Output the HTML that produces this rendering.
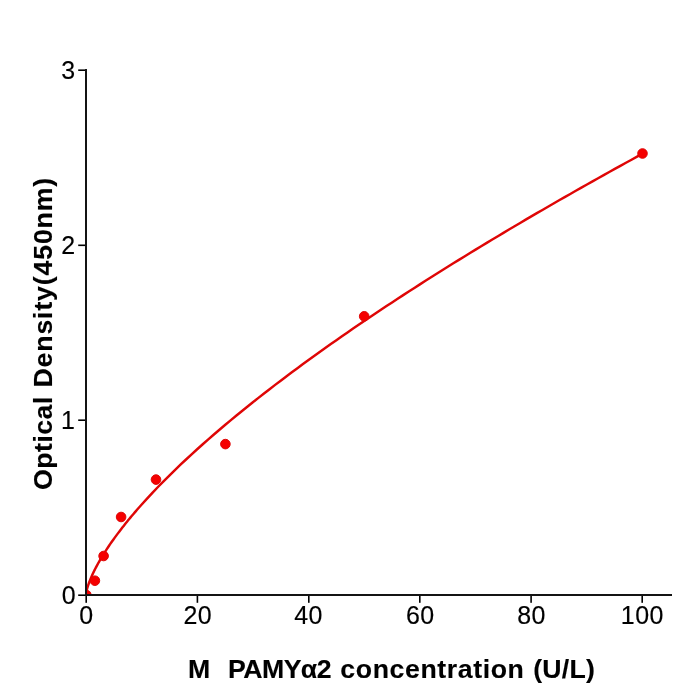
<!DOCTYPE html>
<html lang="en">
<head>
<meta charset="utf-8">
<title>M PAMY&#945;2 standard curve</title>
<style>
html,body{margin:0;padding:0;background:#ffffff;}
body{width:700px;height:700px;overflow:hidden;position:relative;font-family:"Liberation Sans",sans-serif;}
svg{position:absolute;left:0;top:0;display:block;will-change:transform;}
text{font-family:"Liberation Sans",sans-serif;fill:#000000;white-space:pre;}
.tk text{font-size:25.6px;letter-spacing:0.5px;stroke:#000;stroke-width:0.16px;}
.lb text{font-size:25.1px;font-weight:bold;stroke:#000;stroke-width:0.12px;}
</style>
</head>
<body>
<svg width="700" height="700" viewBox="0 0 700 700">
 <rect x="0" y="0" width="700" height="700" fill="#ffffff"/>
 <defs><clipPath id="ax"><rect x="85.8" y="70.0" width="584.70" height="525.00"/></clipPath></defs>
 <g clip-path="url(#ax)">
  <polyline transform="translate(0 -0.3)" fill="none" stroke="#df0606" stroke-width="2.45" stroke-linejoin="round" stroke-linecap="butt" points="85.80,595.97 86.08,593.58 86.36,592.12 86.64,590.89 86.91,589.78 87.19,588.76 87.47,587.79 87.75,586.88 88.03,586.01 88.31,585.17 88.58,584.36 88.86,583.57 89.14,582.81 89.42,582.06 89.70,581.34 89.98,580.63 90.25,579.93 90.53,579.25 90.81,578.58 91.09,577.92 91.37,577.27 91.65,576.63 91.93,576.01 92.20,575.39 92.48,574.78 92.76,574.17 93.04,573.58 93.32,572.99 93.60,572.41 93.87,571.83 94.15,571.27 94.43,570.70 94.71,570.15 94.99,569.59 95.27,569.05 95.55,568.51 95.82,567.97 96.10,567.44 96.38,566.91 96.66,566.39 96.94,565.87 98.05,563.83 99.16,561.85 100.28,559.92 101.39,558.04 102.51,556.20 103.62,554.40 104.73,552.63 105.85,550.89 106.96,549.19 108.07,547.51 109.19,545.86 110.30,544.23 111.42,542.62 112.53,541.04 113.64,539.48 114.76,537.94 115.87,536.41 116.98,534.91 118.10,533.42 119.21,531.94 120.33,530.48 121.44,529.04 122.55,527.61 123.67,526.19 124.78,524.79 125.89,523.40 127.01,522.02 128.12,520.65 129.23,519.30 130.35,517.95 131.46,516.62 132.58,515.29 133.69,513.98 134.80,512.67 135.92,511.38 137.03,510.09 138.14,508.81 139.26,507.54 140.37,506.28 141.49,505.03 147.05,498.87 152.62,492.89 158.19,487.07 163.76,481.38 169.33,475.82 174.90,470.37 180.47,465.03 186.03,459.79 191.60,454.64 197.17,449.57 202.74,444.58 208.31,439.67 213.88,434.82 219.45,430.04 225.01,425.33 230.58,420.67 236.15,416.06 241.72,411.51 247.29,407.01 252.86,402.56 258.43,398.16 263.99,393.80 269.56,389.48 275.13,385.20 280.70,380.97 286.27,376.77 291.84,372.60 297.41,368.48 302.97,364.38 308.54,360.32 314.11,356.29 319.68,352.29 325.25,348.32 330.82,344.38 336.39,340.47 341.95,336.59 347.52,332.73 353.09,328.90 358.66,325.09 364.23,321.30 369.80,317.54 375.37,313.81 380.93,310.09 386.50,306.40 392.07,302.73 397.64,299.08 403.21,295.45 408.78,291.84 414.35,288.25 419.91,284.68 425.48,281.13 431.05,277.59 436.62,274.08 442.19,270.58 447.76,267.10 453.33,263.63 458.89,260.18 464.46,256.75 470.03,253.33 475.60,249.93 481.17,246.55 486.74,243.18 492.31,239.82 497.87,236.48 503.44,233.15 509.01,229.84 514.58,226.54 520.15,223.25 525.72,219.98 531.29,216.72 536.85,213.47 542.42,210.24 547.99,207.01 553.56,203.80 559.13,200.60 564.70,197.42 570.27,194.24 575.83,191.08 581.40,187.93 586.97,184.79 592.54,181.66 598.11,178.54 603.68,175.43 609.25,172.33 614.81,169.24 620.38,166.17 625.95,163.10 631.52,160.04 637.09,156.99 642.66,153.95"/>
  <g fill="#f50000" stroke="#df0606" stroke-width="1.0">
   <circle cx="86.30" cy="595.00" r="4.80"/>
   <circle cx="94.90" cy="580.70" r="4.80"/>
   <circle cx="103.60" cy="556.00" r="4.80"/>
   <circle cx="121.10" cy="517.00" r="4.80"/>
   <circle cx="156.00" cy="479.60" r="4.80"/>
   <circle cx="225.40" cy="444.10" r="4.80"/>
   <circle cx="364.20" cy="316.30" r="4.80"/>
   <circle cx="642.50" cy="153.50" r="4.80"/>
  </g>
 </g>
 <g fill="#141414" shape-rendering="crispEdges">
  <rect x="85" y="69" width="2" height="527"/>
  <rect x="85" y="594" width="587" height="2"/>
 </g>
 <g fill="#000000">
  <rect x="85.40" y="596" width="1.60" height="6.8"/>
  <rect x="196.60" y="596" width="1.60" height="6.8"/>
  <rect x="308.00" y="596" width="1.60" height="6.8"/>
  <rect x="419.00" y="596" width="1.60" height="6.8"/>
  <rect x="530.30" y="596" width="1.60" height="6.8"/>
  <rect x="641.40" y="596" width="1.60" height="6.8"/>
  <rect x="78.2" y="594.40" width="6.8" height="1.60"/>
  <rect x="78.2" y="419.40" width="6.8" height="1.60"/>
  <rect x="78.2" y="244.50" width="6.8" height="1.60"/>
  <rect x="78.2" y="69.40" width="6.8" height="1.60"/>
 </g>
 <g class="tk">
  <text transform="translate(79.29 623.60) scale(0.975 1)">0</text>
  <text transform="translate(183.38 623.60) scale(0.975 1)">20</text>
  <text transform="translate(294.22 623.60) scale(0.975 1)">40</text>
  <text transform="translate(405.95 623.60) scale(0.975 1)">60</text>
  <text transform="translate(517.24 623.60) scale(0.975 1)">80</text>
  <text transform="translate(620.85 623.60) scale(0.975 1)">100</text>
  <text transform="translate(61.73 603.85) scale(0.975 1)">0</text>
  <text transform="translate(60.95 429.20) scale(0.975 1)">1</text>
  <text transform="translate(61.27 254.20) scale(0.975 1)">2</text>
  <text transform="translate(61.13 78.85) scale(0.975 1)">3</text>
 </g>
 <g class="lb">
  <text transform="translate(52.20 700) rotate(-90) scale(1.063 1)"><tspan x="197.55" style="letter-spacing:0.463px">Optical</tspan> <tspan x="293.98" style="letter-spacing:0.803px">Density(450nm)</tspan></text>
  <text transform="translate(0 677.60) scale(1.063 1)"><tspan x="176.76" style="letter-spacing:0.000px">M</tspan>  <tspan x="214.53" style="letter-spacing:-0.527px">PAMY&#945;2</tspan> <tspan x="320.21" style="letter-spacing:0.563px">concentration</tspan> <tspan x="501.59" style="letter-spacing:0.252px">(U/L)</tspan></text>
 </g>
</svg>
</body>
</html>
